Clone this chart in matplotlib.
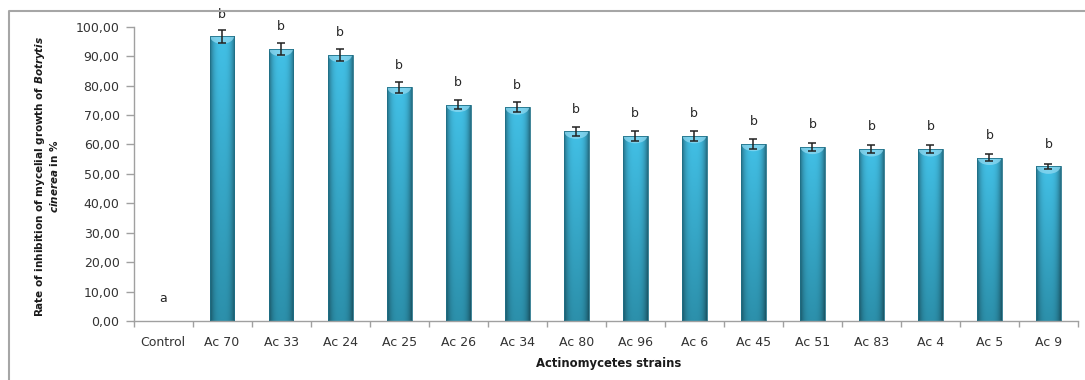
import numpy as np
import matplotlib
matplotlib.use("Agg")
import matplotlib.pyplot as plt
from matplotlib.patches import Rectangle, Ellipse
from matplotlib.ticker import FuncFormatter, FixedLocator

strains = ["Control", "Ac 70", "Ac 33", "Ac 24", "Ac 25", "Ac 26", "Ac 34", "Ac 80",
           "Ac 96", "Ac 6", "Ac 45", "Ac 51", "Ac 83", "Ac 4", "Ac 5", "Ac 9"]
inhibition = [0.0, 96.7, 92.4, 90.4, 79.4, 73.5, 72.6, 64.4,
              62.9, 62.9, 60.2, 59.2, 58.4, 58.4, 55.5, 52.5]
std_err = [0.0, 2.2, 2.0, 2.0, 1.8, 1.6, 1.7, 1.6,
           1.6, 1.6, 1.6, 1.3, 1.4, 1.4, 1.3, 0.9]
groups = ["a", "b", "b", "b", "b", "b", "b", "b",
          "b", "b", "b", "b", "b", "b", "b", "b"]

plt.rcParams['font.family'] = 'DejaVu Sans'
plt.rcParams['mathtext.fontset'] = 'dejavusans'

fig = plt.figure(figsize=(10.85, 3.8), dpi=100)
ax = fig.add_axes([133.5 / 1085, 1 - 321 / 380, (1078 - 133.5) / 1085, (321 - 26.7) / 380])

x = np.arange(len(strains))
width = 0.42


def cylinder_shade(n=64, m=64):
    # horizontal shading for the round look, darker towards the bottom
    u = np.linspace(-1, 1, n)
    t = np.linspace(0, 1, m)[:, None]
    top = np.array([0x42, 0xC0, 0xE6]) / 255
    bottom = np.array([0x2C, 0x90, 0xAB]) / 255
    base = bottom + (top - bottom) * t[..., None]
    side = 1 - 0.42 * np.abs(u) ** 3
    return np.clip(base * side[None, :, None], 0, 1)


shade = cylinder_shade()
bars = ax.bar(x, inhibition, width=width, color='none', edgecolor='none', zorder=2)
for bar in bars:
    h = bar.get_height()
    if h <= 0:
        continue
    x0 = bar.get_x()
    im = ax.imshow(shade, extent=(x0, x0 + width, 0, h), origin='lower',
                   aspect='auto', zorder=2, interpolation='bilinear')
    im.set_clip_path(bar)
    cap = Ellipse((x0 + width / 2, h), width * 0.96, 5.0, facecolor='#8FD9F1',
                  edgecolor='none', alpha=0.75, zorder=3)
    ax.add_patch(cap)
    cap.set_clip_path(bar)
    ax.add_patch(Rectangle((x0, 0), width, h, facecolor='none',
                           edgecolor='#1F7087', linewidth=0.6, zorder=3))

# no error bar on the control
has_err = np.array(std_err) > 0
ax.errorbar(x[has_err], np.array(inhibition)[has_err], yerr=np.array(std_err)[has_err],
            fmt='none', ecolor='#222222', elinewidth=1.1, capsize=3, capthick=1.1, zorder=4)

for xi, v, g in zip(x, inhibition, groups):
    ax.annotate(g, (xi, v), xytext=(0, 16), textcoords='offset points',
                ha='center', va='center', fontsize=9, color='#262626',
                annotation_clip=False)

ax.set_xlim(-0.5, len(strains) - 0.5)
ax.set_ylim(0, 100)
ax.set_yticks(np.arange(0, 101, 10))
ax.yaxis.set_major_formatter(FuncFormatter(lambda v, p: f"{v:.2f}".replace('.', ',')))
ax.set_xticks(x)
ax.set_xticklabels(strains)
ax.xaxis.set_minor_locator(FixedLocator(np.arange(-0.5, len(strains), 1.0)))

for side in ['top', 'right']:
    ax.spines[side].set_visible(False)
for side in ['left', 'bottom']:
    ax.spines[side].set_color('#A0A0A0')
    ax.spines[side].set_linewidth(1.0)

ax.tick_params(axis='y', length=6, width=1.0, color='#A0A0A0', pad=4,
               labelsize=9, labelcolor='#333333')
ax.tick_params(axis='x', which='major', length=0, pad=11,
               labelsize=9, labelcolor='#333333')
ax.tick_params(axis='x', which='minor', length=4, width=1.0, color='#A0A0A0')

fig.text(40 / 1085, 1 - 176 / 380,
         r"Rate of inhibition of mycelial growth of $\mathbfit{Botrytis}$",
         rotation=90, ha='center', va='center', fontsize=7.5, fontweight='bold',
         color='#1A1A1A')
fig.text(54 / 1085, 1 - 176 / 380, r"$\mathbfit{cinerea}$ in %",
         rotation=90, ha='center', va='center', fontsize=7.5, fontweight='bold',
         color='#1A1A1A')
fig.text(609 / 1085, 1 - 363 / 380, "Actinomycetes strains", ha='center', va='center',
         fontsize=8.4, fontweight='bold', color='#1A1A1A')

# outer chart frame
fig.add_artist(plt.Line2D([9 / 1085, 9 / 1085, 1.0], [0.0, 1 - 11 / 380, 1 - 11 / 380],
                          transform=fig.transFigure, color='#A6A6A6', linewidth=1.5))

fig.savefig('out.png', dpi=100)
